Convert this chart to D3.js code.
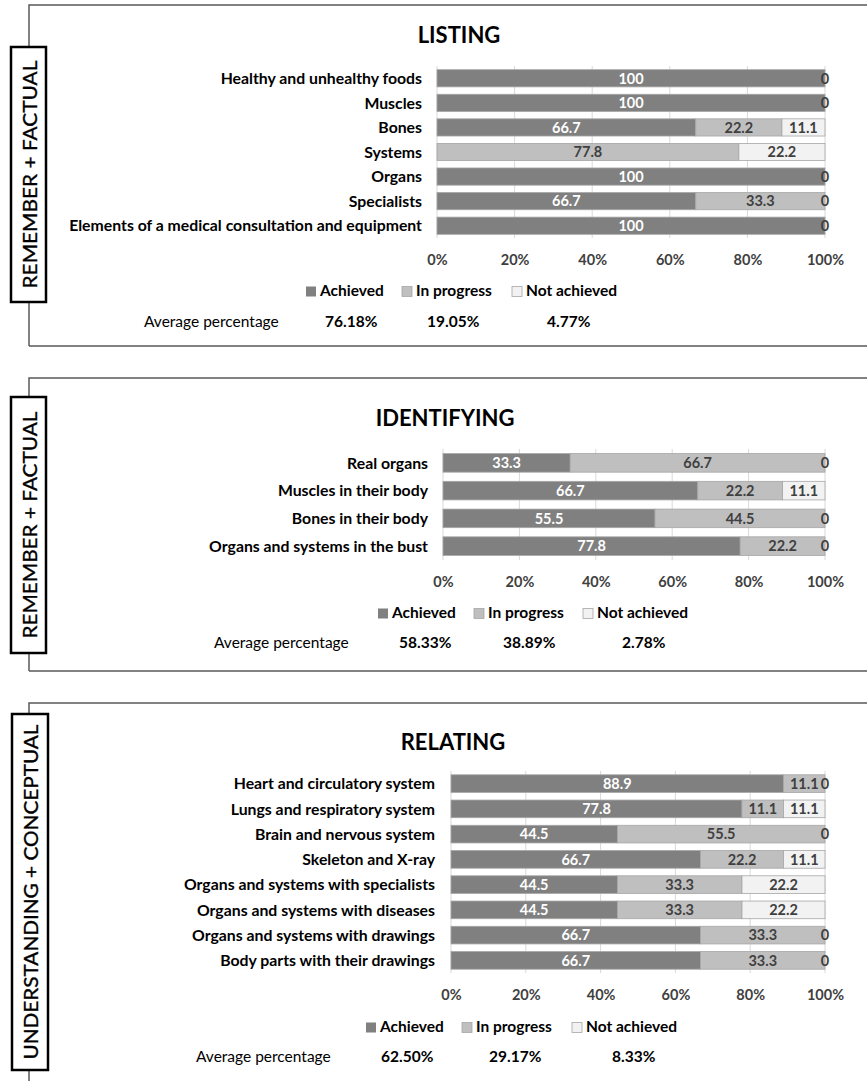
<!DOCTYPE html>
<html>
<head>
<meta charset="utf-8">
<script src="https://cdn.jsdelivr.net/npm/d3@7"></script>
<style>
  body { margin: 0; background: #fff; }
  svg { display: block; font-family: Lato, "Open Sans", sans-serif; }
</style>
</head>
<body>
<svg id="chart" width="867" height="1081"></svg>
<script>
// ---- data ----
const seriesNames = ['Achieved', 'In progress', 'Not achieved'];
const xTicks = [0, 20, 40, 60, 80, 100];

const listingCats = ['Healthy and unhealthy foods', 'Muscles', 'Bones', 'Systems', 'Organs', 'Specialists', 'Elements of a medical consultation and equipment'];
const listingAchieved = [100, 100, 66.7, 0, 100, 66.7, 100];
const listingProgress = [0, 0, 22.2, 77.8, 0, 33.3, 0];
const listingNot = [0, 0, 11.1, 22.2, 0, 0, 0];
const listingAvg = ['76.18%', '19.05%', '4.77%'];

const identCats = ['Real organs', 'Muscles in their body', 'Bones in their body', 'Organs and systems in the bust'];
const identAchieved = [33.3, 66.7, 55.5, 77.8];
const identProgress = [66.7, 22.2, 44.5, 22.2];
const identNot = [0, 11.1, 0, 0];
const identAvg = ['58.33%', '38.89%', '2.78%'];

const relCats = ['Heart and circulatory system', 'Lungs and respiratory system', 'Brain and nervous system', 'Skeleton and X-ray', 'Organs and systems with specialists', 'Organs and systems with diseases', 'Organs and systems with drawings', 'Body parts with their drawings'];
const relAchieved = [88.9, 77.8, 44.5, 66.7, 44.5, 44.5, 66.7, 66.7];
const relProgress = [11.1, 11.1, 55.5, 22.2, 33.3, 33.3, 33.3, 33.3];
const relNot = [0, 11.1, 0, 11.1, 22.2, 22.2, 0, 0];
const relAvg = ['62.50%', '29.17%', '8.33%'];

const fills = ['#808080', '#bfbfbf', '#f2f2f2'];
const labelColors = ['#ffffff', '#404040', '#404040'];

const svg = d3.select('#chart');

function drawPanel(o) {
  const g = svg.append('g');

  // outer frame (right side runs off the page)
  g.append('path')
    .attr('d', `M${o.frame.x},${o.frame.y1} L${o.frame.x},${o.frame.y0} L900,${o.frame.y0}` +
      (o.frame.closed ? ` M${o.frame.x},${o.frame.y1} L900,${o.frame.y1}` : ''))
    .attr('fill', 'none').attr('stroke', '#595959').attr('stroke-width', 1.5);

  // side box
  g.append('rect')
    .attr('x', o.box.x).attr('y', o.box.y).attr('width', o.box.w).attr('height', o.box.h)
    .attr('fill', '#fff').attr('stroke', '#000').attr('stroke-width', 2.5);
  g.append('text')
    .attr('transform', `translate(${o.box.x + o.box.w / 2 + 8},${o.box.y + o.box.h / 2}) rotate(-90)`)
    .attr('text-anchor', 'middle')
    .attr('textLength', o.box.len).attr('lengthAdjust', 'spacingAndGlyphs')
    .style('font-size', '20px')
    .style('fill', '#000').style('stroke', '#000').style('stroke-width', 0.35)
    .text(o.side);

  // title
  g.append('text')
    .attr('x', o.title.x).attr('y', o.title.y)
    .attr('text-anchor', 'middle')
    .style('font-size', '22px').style('font-weight', 700)
    .text(o.name);

  const x = d3.scaleLinear().domain([0, 100]).range([o.plot.x0, o.plot.x1]);
  const y = d3.scaleBand().domain(o.cats).range([o.plot.y0, o.plot.y1]).paddingInner(o.pad).paddingOuter(o.pad / 2);

  // gridlines
  g.append('g').selectAll('line').data(xTicks).join('line')
    .attr('x1', d => x(d)).attr('x2', d => x(d))
    .attr('y1', o.plot.y0).attr('y2', o.plot.y1)
    .attr('stroke', '#d9d9d9').attr('stroke-width', 1);

  // stacked bars
  const rows = o.cats.map((c, i) => ({ cat: c, vals: [o.a[i], o.p[i], o.n[i]] }));
  const segs = [];
  rows.forEach(r => {
    let acc = 0;
    r.vals.forEach((v, k) => {
      segs.push({ cat: r.cat, k, v, x0: acc, x1: acc + v });
      acc += v;
    });
  });

  g.append('g').selectAll('rect').data(segs.filter(d => d.v > 0)).join('rect')
    .attr('x', d => x(d.x0)).attr('width', d => x(d.x1) - x(d.x0))
    .attr('y', d => y(d.cat)).attr('height', y.bandwidth())
    .attr('fill', d => fills[d.k])
    .attr('stroke', '#a6a6a6').attr('stroke-width', 0.8);

  // data labels (zeros only for the last series, as in the original)
  g.append('g').selectAll('text').data(segs.filter(d => d.v > 0 || d.k === 2)).join('text')
    .attr('x', d => x((d.x0 + d.x1) / 2))
    .attr('y', d => y(d.cat) + y.bandwidth() / 2)
    .attr('dy', '0.36em')
    .attr('text-anchor', 'middle')
    .style('font-size', '14.5px').style('font-weight', 700)
    .style('fill', d => labelColors[d.k])
    .text(d => d.v);

  // category labels
  g.append('g').selectAll('text').data(o.cats).join('text')
    .attr('x', o.labelRight)
    .attr('y', d => y(d) + y.bandwidth() / 2)
    .attr('dy', '0.36em')
    .attr('text-anchor', 'end')
    .style('font-size', '15.8px').style('font-weight', 700)
    .style('fill', '#000')
    .text(d => d);

  // x axis tick labels
  const axis = d3.axisBottom(x).tickValues(xTicks).tickFormat(d => d + '%').tickSize(0);
  const ax = g.append('g').attr('transform', `translate(0,${o.tickY})`).call(axis);
  ax.select('.domain').remove();
  ax.selectAll('text').attr('y', 0).attr('dy', 0)
    .style('font-family', 'Lato, sans-serif')
    .style('font-size', '14.5px').style('font-weight', 700).style('fill', '#404040');

  // legend
  const lg = g.append('g').selectAll('g').data(seriesNames).join('g')
    .attr('transform', (d, i) => `translate(${o.legendX[i]},${o.legendY})`);
  lg.append('rect').attr('x', 0).attr('y', -9.5).attr('width', 10).attr('height', 10)
    .attr('fill', (d, i) => fills[i])
    .attr('stroke', (d, i) => i === 0 ? 'none' : '#a6a6a6').attr('stroke-width', 0.8);
  lg.append('text').attr('x', 14).attr('y', 0)
    .style('font-size', '15.5px').style('font-weight', 700).style('fill', '#000')
    .text(d => d);

  // average row
  g.append('text').attr('x', o.avgLabelX).attr('y', o.avgY)
    .style('font-size', '15.5px').style('fill', '#000')
    .text('Average percentage');
  g.append('g').selectAll('text').data(o.avg).join('text')
    .attr('x', (d, i) => o.avgX[i]).attr('y', o.avgY)
    .style('font-size', '15.5px').style('font-weight', 700).style('fill', '#000')
    .text(d => d);
}

drawPanel({
  name: 'LISTING', side: 'REMEMBER + FACTUAL',
  cats: listingCats, a: listingAchieved, p: listingProgress, n: listingNot, avg: listingAvg,
  frame: { x: 29, y0: 5, y1: 346, closed: true },
  box: { x: 11, y: 47, w: 35, h: 255, len: 228 },
  title: { x: 459, y: 43 },
  plot: { x0: 437, x1: 825, y0: 66, y1: 238 }, pad: 0.3,
  labelRight: 422, tickY: 265,
  legendY: 296, legendX: [306, 402, 512],
  avgY: 327, avgLabelX: 144, avgX: [325, 427, 547]
});

drawPanel({
  name: 'IDENTIFYING', side: 'REMEMBER + FACTUAL',
  cats: identCats, a: identAchieved, p: identProgress, n: identNot, avg: identAvg,
  frame: { x: 29, y0: 378, y1: 671, closed: true },
  box: { x: 11, y: 397, w: 35, h: 256, len: 227 },
  title: { x: 445, y: 426 },
  plot: { x0: 443, x1: 825, y0: 449, y1: 560 }, pad: 0.33,
  labelRight: 428, tickY: 587,
  legendY: 618, legendX: [378, 474, 583],
  avgY: 648, avgLabelX: 214, avgX: [399, 503, 622]
});

drawPanel({
  name: 'RELATING', side: 'UNDERSTANDING + CONCEPTUAL',
  cats: relCats, a: relAchieved, p: relProgress, n: relNot, avg: relAvg,
  frame: { x: 29, y0: 703, y1: 1090, closed: false },
  box: { x: 12, y: 714, w: 36, h: 356, len: 335 },
  title: { x: 453, y: 750 },
  plot: { x0: 451, x1: 825, y0: 771, y1: 973 }, pad: 0.3,
  labelRight: 435, tickY: 1000,
  legendY: 1032, legendX: [366, 462, 572],
  avgY: 1062, avgLabelX: 196, avgX: [381, 489, 612]
});
</script>
</body>
</html>
